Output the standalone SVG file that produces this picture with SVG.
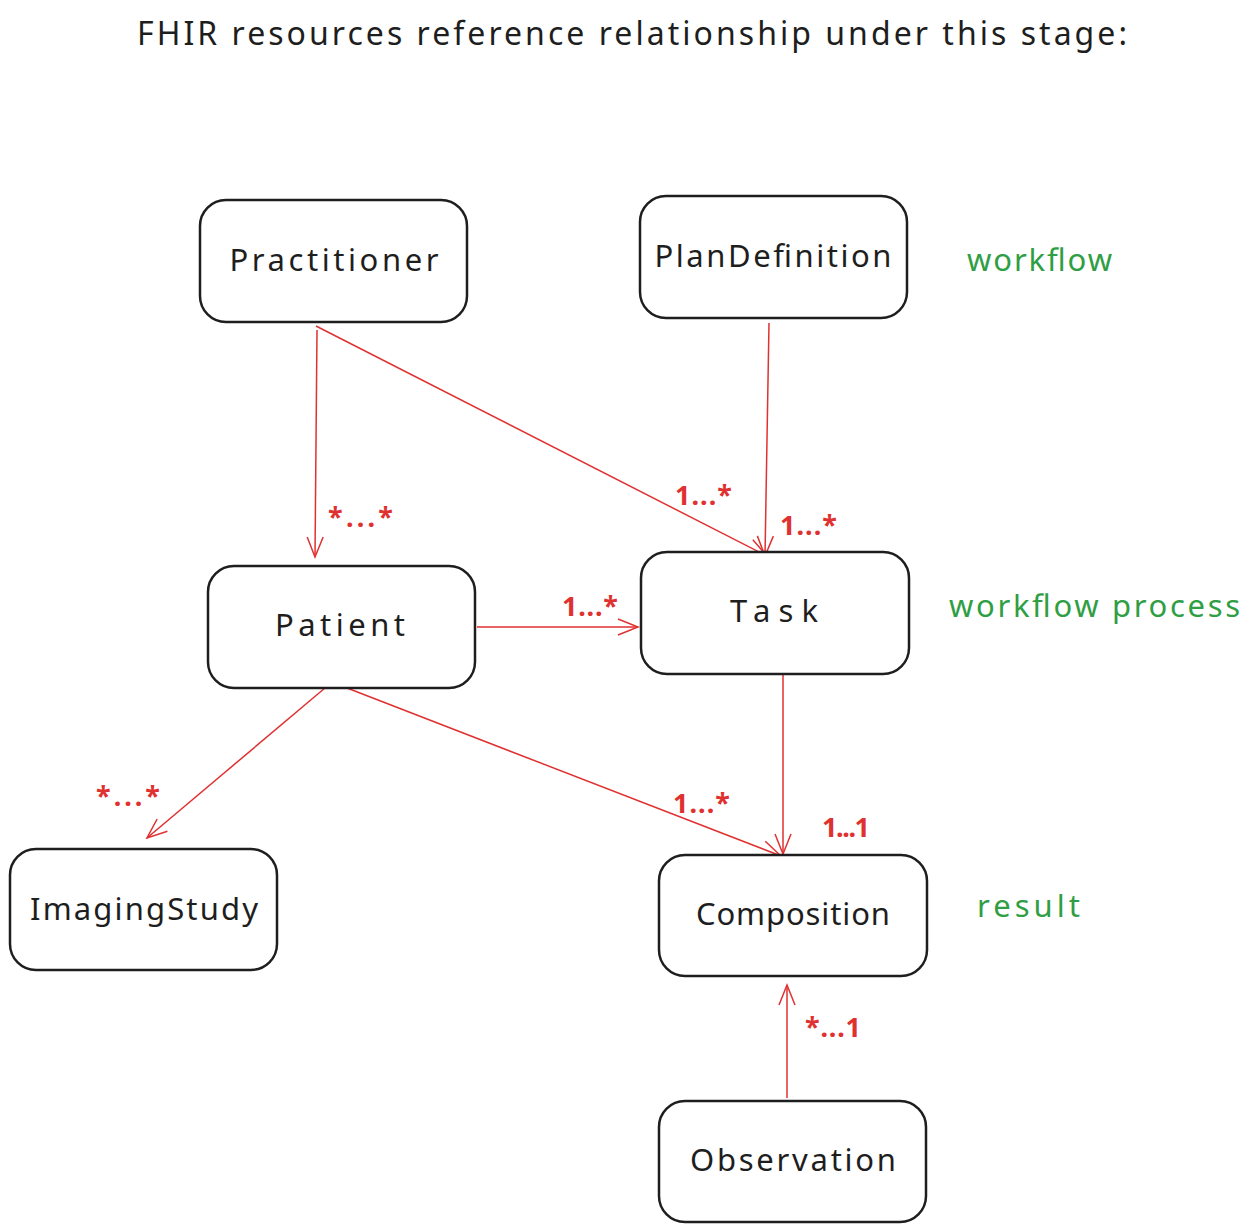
<svg xmlns="http://www.w3.org/2000/svg" width="1250" height="1232" viewBox="0 0 1250 1232">
<style>
.box{fill:#ffffff;stroke:#1e1e1e;stroke-width:2.5}
.lbl{font-family:"Noto Sans","Liberation Sans",sans-serif;font-size:31px;fill:#1e1e1e;text-anchor:middle}
.title{font-family:"Noto Sans","Liberation Sans",sans-serif;font-size:32px;fill:#1e1e1e;text-anchor:middle}
.grn{font-family:"Noto Sans","Liberation Sans",sans-serif;font-size:31px;fill:#2f9e44}
.card{font-family:"Noto Sans","Liberation Sans",sans-serif;font-size:27px;fill:#e03131;font-weight:bold}
.edge{stroke:#e03131;stroke-width:1.5;fill:none;marker-end:url(#arr)}
</style>
<defs>
<marker id="arr" markerUnits="userSpaceOnUse" markerWidth="24" markerHeight="20" viewBox="0 0 24 20" refX="22" refY="10" orient="auto">
<path d="M2,2 L22,10 L2,18" fill="none" stroke="#e03131" stroke-width="1.5"/>
</marker>
</defs>
<rect width="1250" height="1232" fill="#ffffff"/>
<text class="title" x="632" y="45" textLength="990">FHIR resources reference relationship under this stage:</text>

<g id="connectors">
<path class="edge" d="M317,330 L315,557"/>
<path class="edge" d="M316,326 L767,556"/>
<path class="edge" d="M769,323 L765,556"/>
<path class="edge" d="M477,627 L638,627"/>
<path class="edge" d="M325,688 L147,838"/>
<path class="edge" d="M347,688 L781,856"/>
<path class="edge" d="M783,675 L783,854"/>
<path class="edge" d="M787,1098 L787,985"/>
</g>

<g id="cardinalities">
<text class="card" x="328" y="527" textLength="65">*...*</text>
<text class="card" x="675" y="505" textLength="57">1...*</text>
<text class="card" x="780" y="535" textLength="57">1...*</text>
<text class="card" x="562" y="616" textLength="56">1...*</text>
<text class="card" x="96" y="806" textLength="64">*...*</text>
<text class="card" x="673" y="813" textLength="57">1...*</text>
<text class="card" x="822" y="837" textLength="48">1...1</text>
<text class="card" x="805" y="1037" textLength="56">*...1</text>
</g>

<g id="practitioner">
<rect class="box" x="200" y="200" width="267" height="122" rx="26"/>
<text class="lbl" x="334" y="271" textLength="209">Practitioner</text>
</g>
<g id="plandefinition">
<rect class="box" x="640" y="196" width="267" height="122" rx="26"/>
<text class="lbl" x="773" y="267" textLength="237">PlanDefinition</text>
</g>
<g id="patient">
<rect class="box" x="208" y="566" width="267" height="122" rx="26"/>
<text class="lbl" x="340" y="636" textLength="130">Patient</text>
</g>
<g id="task">
<rect class="box" x="641" y="552" width="268" height="122" rx="26"/>
<text class="lbl" x="774" y="622" textLength="88">Task</text>
</g>
<g id="imagingstudy">
<rect class="box" x="10" y="849" width="267" height="121" rx="26"/>
<text class="lbl" x="144" y="920" textLength="228">ImagingStudy</text>
</g>
<g id="composition">
<rect class="box" x="659" y="855" width="268" height="121" rx="26"/>
<text class="lbl" x="793" y="925" textLength="194">Composition</text>
</g>
<g id="observation">
<rect class="box" x="659" y="1101" width="267" height="121" rx="26"/>
<text class="lbl" x="793" y="1171" textLength="206">Observation</text>
</g>

<g id="stages">
<text class="grn" x="967" y="271" textLength="145">workflow</text>
<text class="grn" x="949" y="617" textLength="291">workflow process</text>
<text class="grn" x="977" y="917" textLength="103">result</text>
</g>
</svg>
